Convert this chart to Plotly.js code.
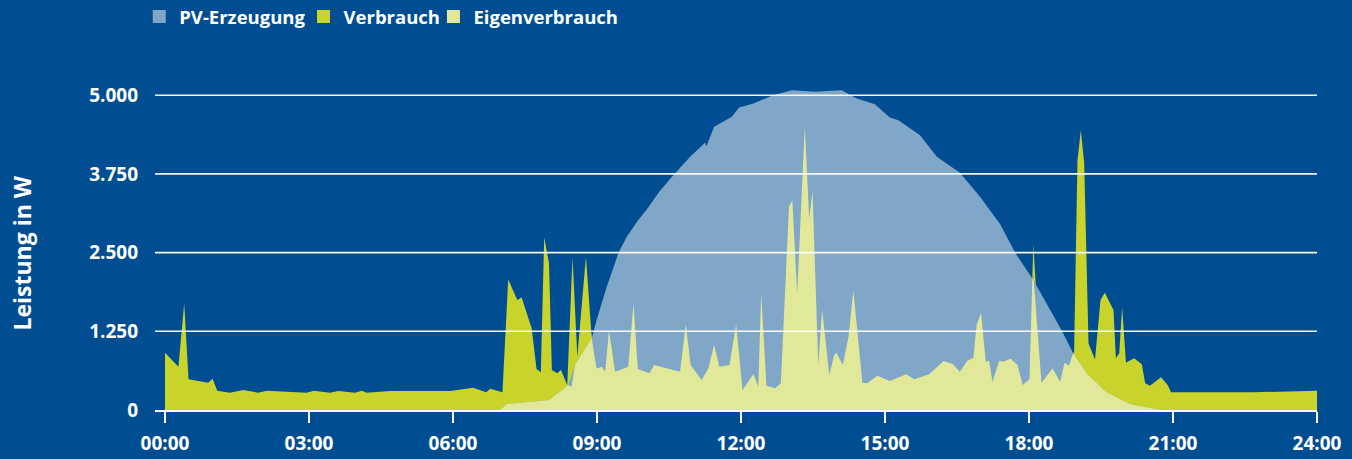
<!DOCTYPE html>
<html>
<head>
<meta charset="utf-8">
<script src="https://cdn.plot.ly/plotly-3.0.1.min.js"></script>
<style>
  html, body { margin: 0; padding: 0; background: #004E91; }
  #chart { width: 1352px; height: 459px; }
</style>
</head>
<body>
<div id="chart"></div>
<script>
// Time in hours of the day
const xTickVals = [0, 3, 6, 9, 12, 15, 18, 21, 24];
const xTickText = ["00:00", "03:00", "06:00", "09:00", "12:00", "15:00", "18:00", "21:00", "24:00"];
const yTickVals = [0, 1250, 2500, 3750, 5000];
const yTitle = "Leistung in W";

const seriesNames = ["PV-Erzeugung", "Verbrauch", "Eigenverbrauch"];

// PV-Erzeugung (W)
const pvTime = [6.98, 7.12, 8.01, 8.40, 8.54, 8.89, 9.00, 9.20, 9.45, 9.62, 9.86, 10.03, 10.30, 10.59, 10.94,
  11.25, 11.28, 11.44, 11.81, 11.96, 12.26, 12.67, 13.06, 13.54, 14.10, 14.41, 14.79, 15.10, 15.28, 15.73,
  16.08, 16.56, 16.98, 17.40, 17.71, 18.09, 18.69, 18.92, 19.20, 19.60, 20.10, 20.73];
const pvValues = [0, 95, 159, 397, 714, 1138, 1450, 1950, 2500, 2751, 3016, 3175, 3470, 3730, 4021,
  4243, 4190, 4497, 4656, 4804, 4868, 5000, 5079, 5053, 5079, 4947, 4857, 4646, 4603, 4365,
  4021, 3767, 3386, 2950, 2500, 2063, 1250, 900, 582, 291, 95, 0];

// Verbrauch (W)
const verbrauchTime = [0.00, 0.28, 0.40, 0.49, 0.90, 0.99, 1.09, 1.35, 1.63, 1.94, 2.12, 2.95, 3.10, 3.44, 3.61,
  3.96, 4.10, 4.20, 4.69, 5.94, 6.42, 6.69, 6.78, 7.03, 7.15, 7.34, 7.43, 7.64, 7.74, 7.83,
  7.90, 8.00, 8.06, 8.17, 8.25, 8.38, 8.49, 8.59, 8.77, 8.88, 8.99, 9.10, 9.17, 9.25, 9.375,
  9.65, 9.76, 9.85, 10.09, 10.19, 10.73, 10.85, 10.95, 11.18, 11.32, 11.44, 11.55, 11.76, 11.90, 12.03,
  12.26, 12.36, 12.42, 12.53, 12.71, 12.83, 13.00, 13.07, 13.17, 13.33, 13.42, 13.49, 13.61, 13.69, 13.84,
  13.94, 13.99, 14.12, 14.24, 14.34, 14.53, 14.63, 14.84, 15.10, 15.44, 15.61, 15.92, 16.22, 16.41, 16.56,
  16.71, 16.84, 16.91, 17.00, 17.10, 17.17, 17.24, 17.38, 17.46, 17.62, 17.76, 17.87, 18.01, 18.09, 18.26,
  18.49, 18.65, 18.74, 18.83, 18.94, 19.01, 19.08, 19.15, 19.24, 19.375, 19.49, 19.58, 19.76, 19.81, 19.88,
  19.94, 20.02, 20.19, 20.35, 20.42, 20.52, 20.75, 20.89, 20.96, 22.67, 24.00];
const verbrauchValues = [910, 687, 1693, 487, 434, 497, 307, 275, 317, 275, 307, 275, 307, 275, 302,
  275, 307, 275, 302, 302, 355, 280, 338, 280, 2074, 1746, 1788, 1296, 651, 598,
  2741, 2328, 635, 582, 635, 397, 2423, 846, 2434, 1243, 661, 688, 608, 1270, 608,
  688, 1693, 651, 582, 714, 608, 1365, 714, 476, 661, 1032, 688, 714, 1365, 317,
  571, 370, 1852, 386, 344, 423, 3228, 3333, 1852, 4497, 3042, 3466, 714, 1598, 556,
  873, 910, 714, 1164, 1894, 434, 423, 545, 460, 566, 487, 566, 778, 730, 608,
  778, 831, 1349, 1545, 767, 783, 450, 783, 767, 815, 714, 397, 487, 2635, 434,
  661, 450, 751, 704, 926, 3968, 4444, 3915, 1058, 804, 1746, 1862, 1587, 820, 900,
  1630, 751, 820, 725, 423, 386, 519, 397, 280, 280, 307];

// Eigenverbrauch (W)
const eigenTime = [6.98, 7.12, 8.01, 8.40, 8.47, 8.54, 8.89, 8.99, 9.10, 9.17, 9.25, 9.375,
  9.65, 9.76, 9.85, 10.09, 10.19, 10.73, 10.85, 10.95, 11.18, 11.32, 11.44, 11.55, 11.76, 11.90, 12.03,
  12.26, 12.36, 12.42, 12.53, 12.71, 12.83, 13.00, 13.07, 13.17, 13.33, 13.42, 13.49, 13.61, 13.69, 13.84,
  13.94, 13.99, 14.12, 14.24, 14.34, 14.53, 14.63, 14.84, 15.10, 15.44, 15.61, 15.92, 16.22, 16.41, 16.56,
  16.71, 16.84, 16.91, 17.00, 17.10, 17.17, 17.24, 17.38, 17.46, 17.62, 17.76, 17.87, 18.01, 18.07, 18.10, 18.26,
  18.49, 18.65, 18.74, 18.83, 18.92, 19.20, 19.60, 20.10, 20.73];
const eigenValues = [0, 95, 159, 397, 370, 714, 1138, 661, 688, 608, 1270, 608,
  688, 1693, 651, 582, 714, 608, 1365, 714, 476, 661, 1032, 688, 714, 1365, 317,
  571, 370, 1852, 386, 344, 423, 3228, 3333, 1852, 4497, 3042, 3466, 714, 1598, 556,
  873, 910, 714, 1164, 1894, 434, 423, 545, 460, 566, 487, 566, 778, 730, 608,
  778, 831, 1349, 1545, 767, 783, 450, 783, 767, 815, 714, 397, 487, 2090, 2050, 434,
  661, 450, 751, 704, 900, 582, 291, 95, 0];

const colors = {
  bg: "#004E91",
  pv: "#80A6C8",
  verbrauch: "#C8D42C",
  eigen: "#E2E899",
  text: "#FFFFFF"
};
const FONT = "Open Sans, sans-serif";

function area(x, y, color) {
  return {
    x: x, y: y, type: "scatter", mode: "lines",
    fill: "tozeroy", fillcolor: color,
    line: { width: 0, color: color, shape: "linear" },
    showlegend: false, hoverinfo: "skip"
  };
}
function legendEntry(name, color, legendId) {
  return {
    x: [null], y: [null], type: "scatter", mode: "markers", name: name,
    marker: { symbol: "square", size: 13, color: color },
    showlegend: true, legend: legendId
  };
}

const data = [
  area(verbrauchTime, verbrauchValues, colors.verbrauch),
  area(pvTime, pvValues, colors.pv),
  area(eigenTime, eigenValues, colors.eigen),
  legendEntry(seriesNames[0], colors.pv, "legend"),
  legendEntry(seriesNames[1], colors.verbrauch, "legend2"),
  legendEntry(seriesNames[2], colors.eigen, "legend3")
];

const gridShapes = yTickVals.filter(v => v > 0).map(v => ({
  type: "line", layer: "above", xref: "paper", x0: 0, x1: 1, yref: "y", y0: v, y1: v,
  line: { color: "rgba(255,255,255,0.95)", width: 1.6 }
}));

function legendAt(xFrac) {
  return {
    orientation: "h", xref: "container", yref: "container",
    x: xFrac, xanchor: "left", y: 0.963, yanchor: "middle",
    font: { family: FONT, size: 18.5, color: colors.text, weight: 700 },
    bgcolor: "rgba(0,0,0,0)", itemclick: false, itemdoubleclick: false
  };
}

const layout = {
  width: 1352, height: 459,
  paper_bgcolor: colors.bg, plot_bgcolor: colors.bg,
  margin: { l: 155, r: 35, t: 70, b: 49 },
  separators: ",.",
  font: { family: FONT, color: colors.text, size: 19, weight: 700 },
  showlegend: true,
  legend: legendAt(0.103),
  legend2: legendAt(0.2245),
  legend3: legendAt(0.3206),
  xaxis: {
    range: [-10 / 48, 24], tickmode: "array", tickvals: xTickVals, ticktext: xTickText,
    showgrid: false, zeroline: false, showline: true, linecolor: "#FFFFFF", linewidth: 1.6,
    ticks: "outside", ticklen: 11, tickwidth: 1.6, tickcolor: "#FFFFFF",
    ticklabelstandoff: 5,
    tickfont: { family: FONT, size: 19, color: colors.text, weight: 700 },
    fixedrange: true
  },
  yaxis: {
    range: [0, 5400], tickmode: "array", tickvals: yTickVals, tickformat: ",d",
    showgrid: false, zeroline: false, showline: false, ticks: "",
    ticklabelstandoff: 16,
    tickfont: { family: FONT, size: 19, color: colors.text, weight: 700 },
    fixedrange: true
  },
  annotations: [{
    text: yTitle, textangle: -90, showarrow: false,
    xref: "paper", x: -0.1145, xanchor: "center",
    yref: "y", y: 2500, yanchor: "middle",
    font: { family: FONT, size: 23, color: colors.text, weight: 700 }
  }],
  shapes: gridShapes
};

Plotly.newPlot("chart", data, layout, { displayModeBar: false, staticPlot: true });
</script>
</body>
</html>
